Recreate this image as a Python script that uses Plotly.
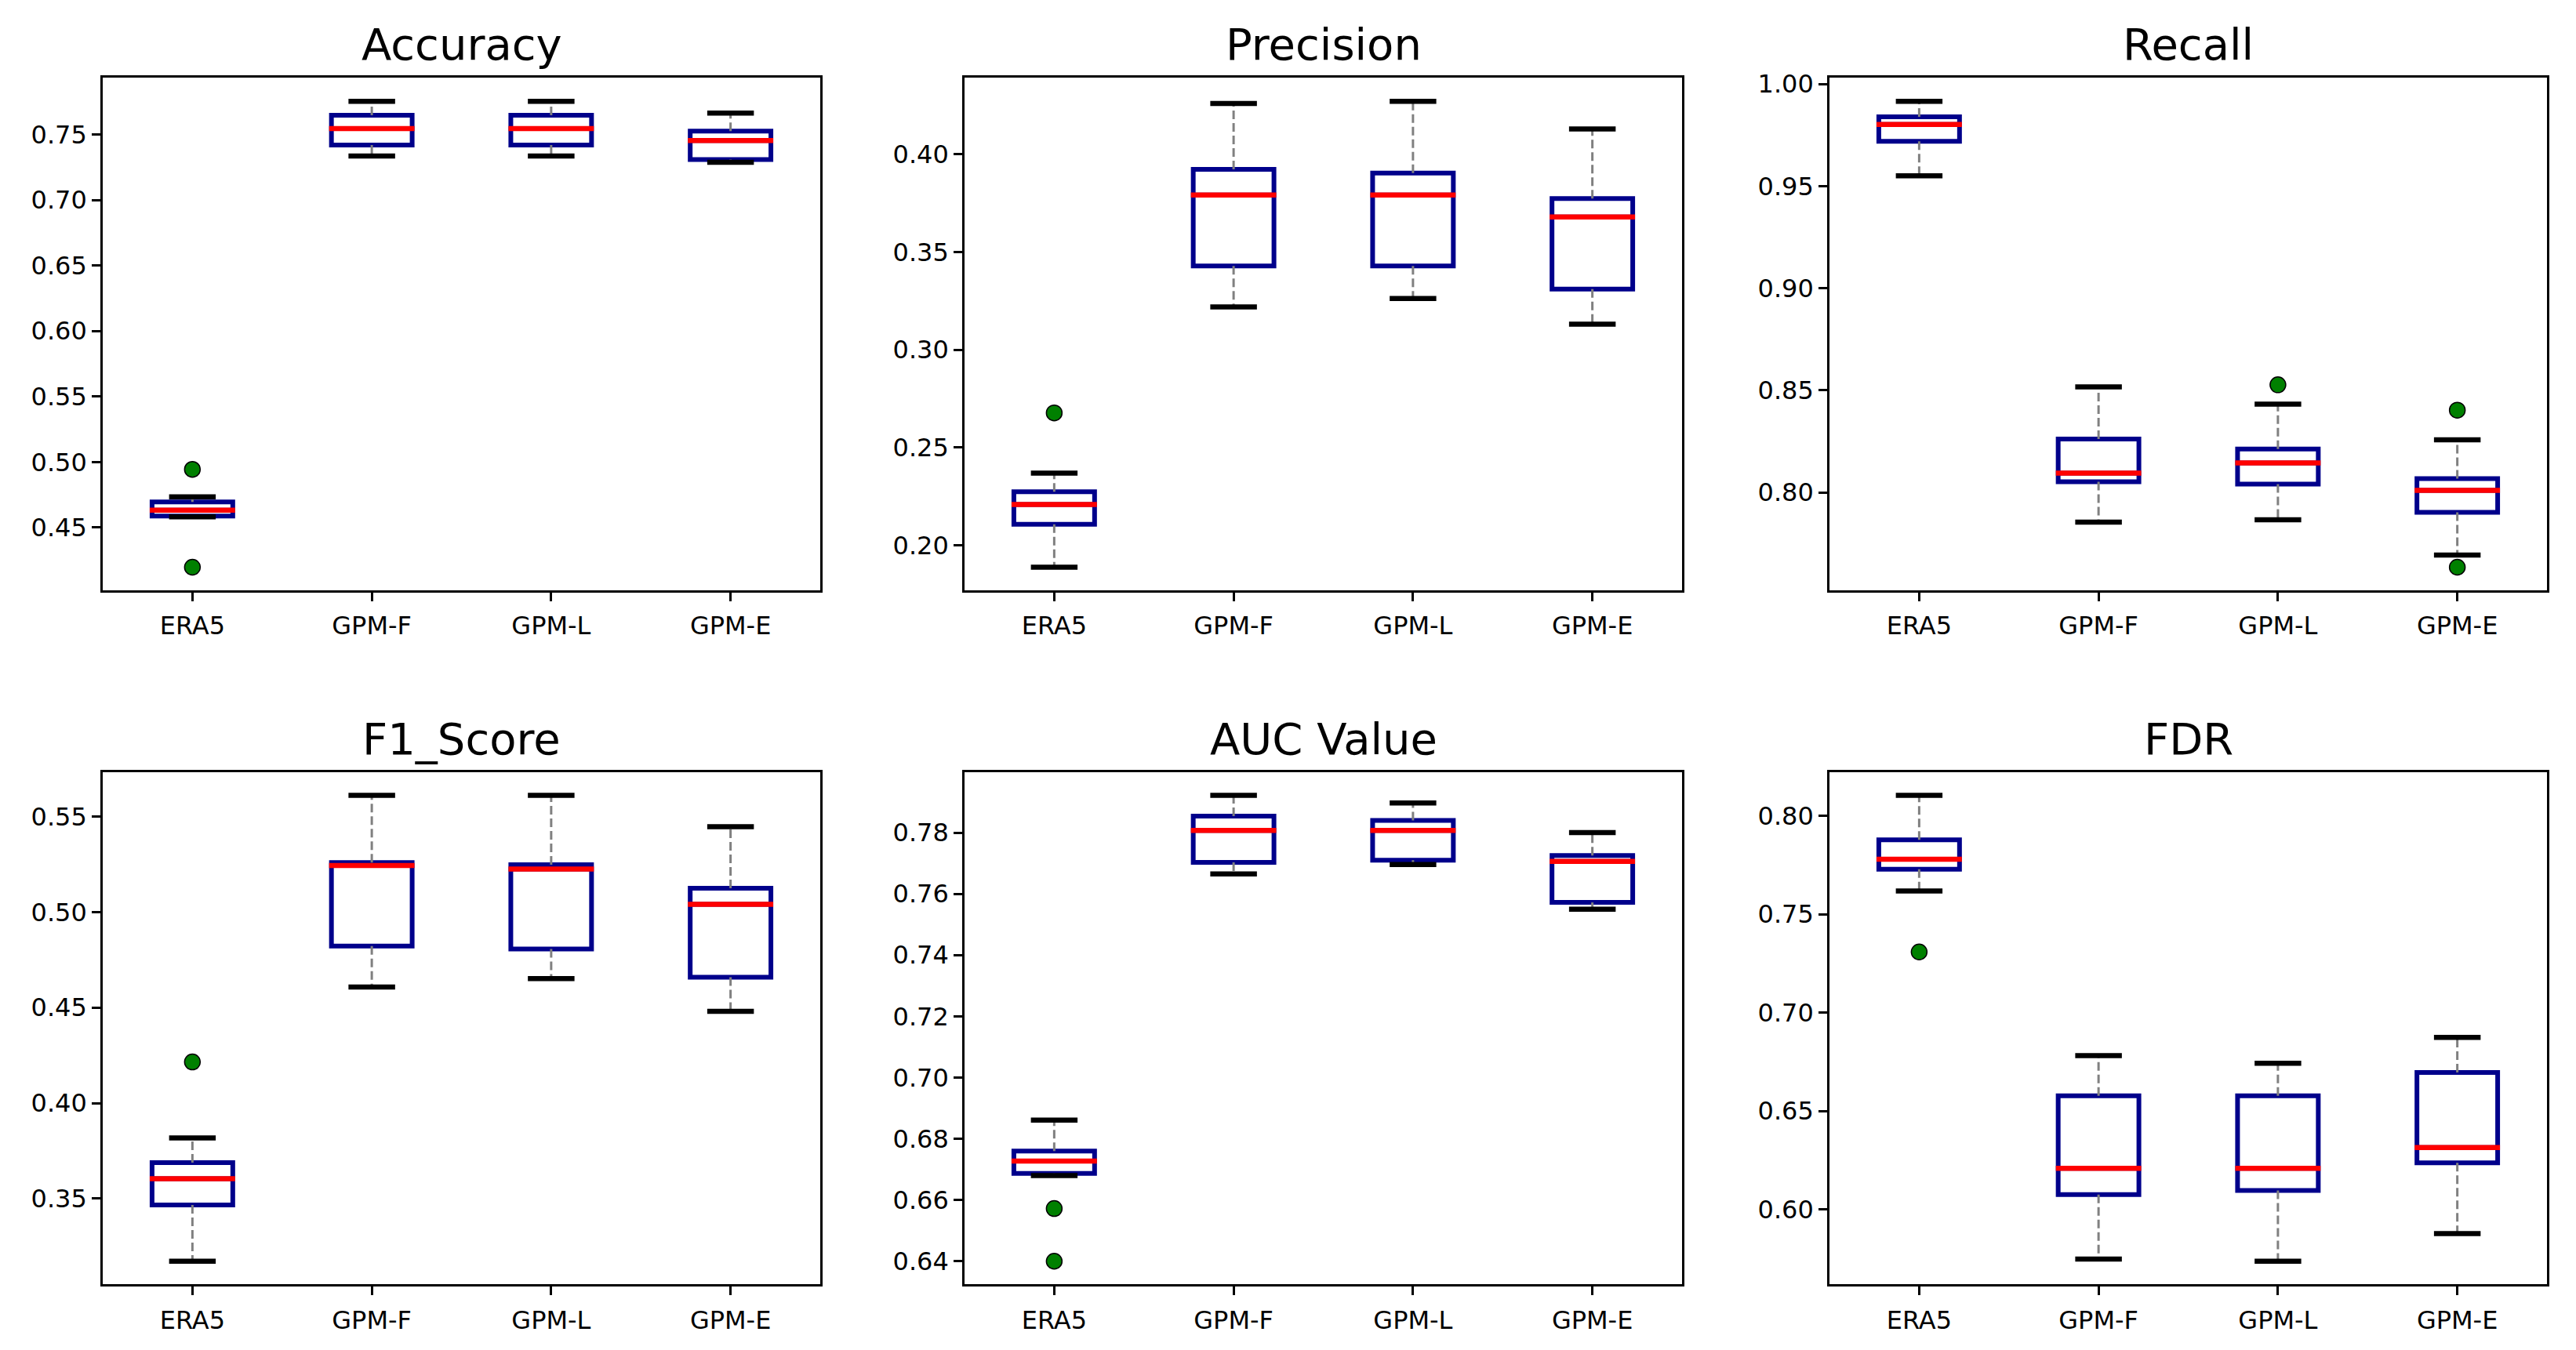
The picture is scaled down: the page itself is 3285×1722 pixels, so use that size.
import plotly.graph_objects as go

# ---------------- data ----------------
CATEGORIES = ["ERA5", "GPM-F", "GPM-L", "GPM-E"]
TITLES = ["Accuracy", "Precision", "Recall", "F1_Score", "AUC Value", "FDR"]

ACC_LOW = [0.4582, 0.7336, 0.7336, 0.7288]
ACC_Q1 = [0.4588, 0.7420, 0.7420, 0.7310]
ACC_MED = [0.4632, 0.7545, 0.7545, 0.7455]
ACC_Q3 = [0.4696, 0.7648, 0.7648, 0.7526]
ACC_HIGH = [0.4735, 0.7754, 0.7754, 0.7664]
ACC_OUT = [[0.4944, 0.4197], [], [], []]

PRE_LOW = [0.1888, 0.3219, 0.3262, 0.3131]
PRE_Q1 = [0.2108, 0.3428, 0.3428, 0.3310]
PRE_MED = [0.2209, 0.3791, 0.3791, 0.3679]
PRE_Q3 = [0.2274, 0.3922, 0.3903, 0.3773]
PRE_HIGH = [0.2369, 0.4259, 0.4270, 0.4129]
PRE_OUT = [[0.2677], [], [], []]

REC_LOW = [0.9550, 0.7855, 0.7866, 0.7694]
REC_Q1 = [0.9719, 0.8052, 0.8041, 0.7903]
REC_MED = [0.9802, 0.8095, 0.8145, 0.8010]
REC_Q3 = [0.9839, 0.8262, 0.8213, 0.8068]
REC_HIGH = [0.9915, 0.8517, 0.8432, 0.8258]
REC_OUT = [[], [], [0.8527], [0.8403, 0.7634]]

F1_LOW = [0.3172, 0.4607, 0.4651, 0.4480]
F1_Q1 = [0.3467, 0.4822, 0.4806, 0.4659]
F1_MED = [0.3604, 0.5243, 0.5225, 0.5040]
F1_Q3 = [0.3688, 0.5259, 0.5248, 0.5124]
F1_HIGH = [0.3817, 0.5611, 0.5611, 0.5447]
F1_OUT = [[0.4215], [], [], []]

AUC_LOW = [0.6680, 0.7665, 0.7696, 0.7550]
AUC_Q1 = [0.6687, 0.7703, 0.7710, 0.7572]
AUC_MED = [0.6727, 0.7807, 0.7807, 0.7706]
AUC_Q3 = [0.6760, 0.7854, 0.7840, 0.7725]
AUC_HIGH = [0.6861, 0.7922, 0.7897, 0.7800]
AUC_OUT = [[0.6572, 0.6400], [], [], []]

FDR_LOW = [0.7619, 0.5748, 0.5737, 0.5878]
FDR_Q1 = [0.7729, 0.6076, 0.6097, 0.6237]
FDR_MED = [0.7780, 0.6209, 0.6209, 0.6315]
FDR_Q3 = [0.7879, 0.6578, 0.6578, 0.6696]
FDR_HIGH = [0.8105, 0.6782, 0.6743, 0.6875]
FDR_OUT = [[0.7309], [], [], []]

Y_DTICKS = [0.05, 0.05, 0.05, 0.05, 0.02, 0.05]

METRICS = [
    (ACC_LOW, ACC_Q1, ACC_MED, ACC_Q3, ACC_HIGH, ACC_OUT),
    (PRE_LOW, PRE_Q1, PRE_MED, PRE_Q3, PRE_HIGH, PRE_OUT),
    (REC_LOW, REC_Q1, REC_MED, REC_Q3, REC_HIGH, REC_OUT),
    (F1_LOW, F1_Q1, F1_MED, F1_Q3, F1_HIGH, F1_OUT),
    (AUC_LOW, AUC_Q1, AUC_MED, AUC_Q3, AUC_HIGH, AUC_OUT),
    (FDR_LOW, FDR_Q1, FDR_MED, FDR_Q3, FDR_HIGH, FDR_OUT),
]

# ---------------- styling / layout ----------------
PAGE_W, PAGE_H = 3285, 1722
BODY_MARGIN = 8                     # default <body> margin of the html page
W, H = PAGE_W - 2 * BODY_MARGIN, PAGE_H - 2 * BODY_MARGIN
POSITIONS = [1, 2, 3, 4]
BOX_WIDTH = 0.45
MED_HALF = 0.238
CAP_HALF = 0.13
FONT = "DejaVu Sans"

# target pixel positions of the axes frames in the window
COL_PX = [(131, 1046), (1230, 2145), (2333, 3248)]
ROW_PX = [(89, 747), (980, 1638)]


def px_x(px):
    return (px - BODY_MARGIN) / W


def px_y(py):
    return 1 - (py - BODY_MARGIN) / H


fig = go.Figure()
layout = dict(
    width=W, height=H,
    margin=dict(l=0, r=0, t=0, b=0),
    paper_bgcolor="white", plot_bgcolor="white",
    showlegend=False,
    font=dict(family=FONT, color="black"),
    annotations=[],
)

for i, (low, q1, med, q3, high, outs) in enumerate(METRICS):
    r, c = divmod(i, 3)
    n = i + 1
    xa = "x" if n == 1 else f"x{n}"
    ya = "y" if n == 1 else f"y{n}"

    # whiskers (dashed gray)
    wx, wy = [], []
    for p, lo, a, b, hi in zip(POSITIONS, low, q1, q3, high):
        wx += [p, p, None, p, p, None]
        wy += [b, hi, None, a, lo, None]
    fig.add_trace(go.Scatter(x=wx, y=wy, mode="lines",
                             line=dict(color="#808080", width=3, dash="11px,5px"),
                             xaxis=xa, yaxis=ya, hoverinfo="skip"))

    # boxes
    fig.add_trace(go.Box(x=POSITIONS, q1=q1, median=med, q3=q3,
                         lowerfence=q1, upperfence=q3,
                         width=BOX_WIDTH, boxpoints=False,
                         line=dict(color="#00008B", width=6),
                         fillcolor="rgba(255,255,255,0)",
                         xaxis=xa, yaxis=ya))

    # medians (red)
    mx, my = [], []
    for p, m in zip(POSITIONS, med):
        mx += [p - MED_HALF, p + MED_HALF, None]
        my += [m, m, None]
    fig.add_trace(go.Scatter(x=mx, y=my, mode="lines",
                             line=dict(color="#FF0000", width=6.5),
                             xaxis=xa, yaxis=ya, hoverinfo="skip"))

    # caps (black)
    cx, cy = [], []
    for p, lo, hi in zip(POSITIONS, low, high):
        cx += [p - CAP_HALF, p + CAP_HALF, None, p - CAP_HALF, p + CAP_HALF, None]
        cy += [hi, hi, None, lo, lo, None]
    fig.add_trace(go.Scatter(x=cx, y=cy, mode="lines",
                             line=dict(color="black", width=6.5),
                             xaxis=xa, yaxis=ya, hoverinfo="skip"))

    # outliers (green circles)
    ox, oy = [], []
    for p, vals in zip(POSITIONS, outs):
        for v in vals:
            ox.append(p)
            oy.append(v)
    if ox:
        fig.add_trace(go.Scatter(x=ox, y=oy, mode="markers",
                                 marker=dict(color="#008000", size=20,
                                             line=dict(color="black", width=1.5)),
                                 xaxis=xa, yaxis=ya))

    vmin = min(low + oy)
    vmax = max(high + oy)
    pad = 0.05 * (vmax - vmin)

    x0, x1 = COL_PX[c]
    y0, y1 = ROW_PX[r]
    xdom = [px_x(x0), px_x(x1)]
    ydom = [px_y(y1), px_y(y0)]

    axis_common = dict(showline=True, mirror=True, linecolor="black", linewidth=2.6,
                       ticks="outside", ticklen=11, tickwidth=2.6, tickcolor="black",
                       showgrid=False, zeroline=False,
                       tickfont=dict(family=FONT, size=32, color="black"))
    layout["xaxis" if n == 1 else f"xaxis{n}"] = dict(
        domain=xdom, anchor=ya, range=[0.5, 4.5],
        tickmode="array", tickvals=POSITIONS, ticktext=CATEGORIES,
        ticklabelstandoff=4, **axis_common)
    layout["yaxis" if n == 1 else f"yaxis{n}"] = dict(
        domain=ydom, anchor=xa, range=[vmin - pad, vmax + pad],
        tick0=0, dtick=Y_DTICKS[i], tickformat=".2f", **axis_common)

    layout["annotations"].append(dict(
        text=TITLES[i], xref="paper", yref="paper",
        x=(xdom[0] + xdom[1]) / 2, y=ydom[1], xanchor="center", yanchor="bottom",
        yshift=8, showarrow=False,
        font=dict(family=FONT, size=56, color="black")))

fig.update_layout(**layout)
fig.update_layout(boxmode="overlay")
fig.write_html("out.html")
